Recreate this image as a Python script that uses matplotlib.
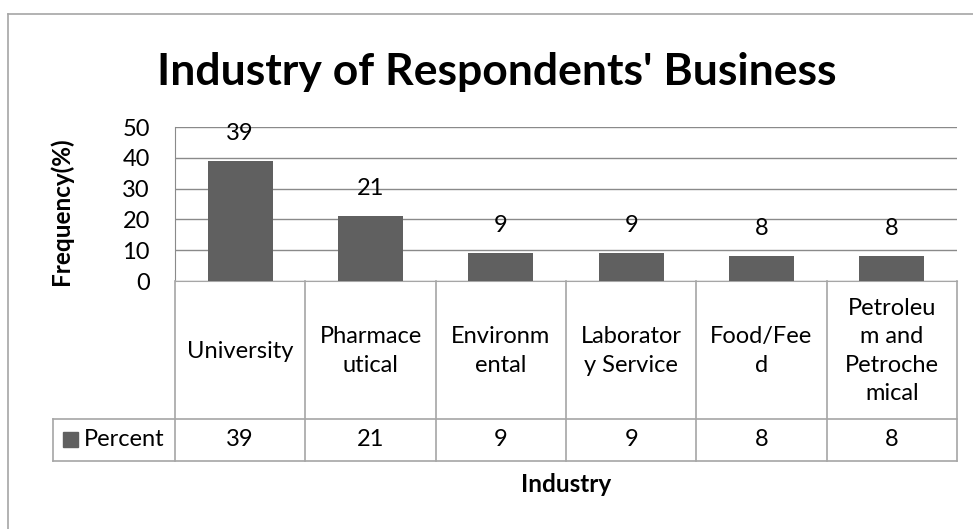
import matplotlib
matplotlib.use('Agg')
import matplotlib.pyplot as plt
from matplotlib.lines import Line2D
from matplotlib.patches import Rectangle

plt.rcParams['font.family'] = ['Lato', 'DejaVu Sans']

# data
categories = ['University', 'Pharmace\nutical', 'Environm\nental', 'Laborator\ny Service',
              'Food/Fee\nd', 'Petroleu\nm and\nPetroche\nmical']
percent = [39, 21, 9, 9, 8, 8]
series_name = 'Percent'
y_ticks = [0, 10, 20, 30, 40, 50]

W, H = 973, 529
bar_color = '#606060'
grid_color = '#8a8a8a'
line_color = '#a6a6a6'
fs = 17

fig = plt.figure(figsize=(W / 100, H / 100), dpi=100)
fig.patch.set_facecolor('white')

# outer chart frame (runs off the right and bottom of the picture)
fig.add_artist(Line2D([8 / W, 8 / W], [0, 1 - 14 / H], transform=fig.transFigure, color=line_color, lw=1.2))
fig.add_artist(Line2D([8 / W, 1], [1 - 14 / H, 1 - 14 / H], transform=fig.transFigure, color=line_color, lw=1.2))

# plot area
px_l, px_r, px_top, px_bot = 175, 957, 127, 281
ax = fig.add_axes([px_l / W, 1 - px_bot / H, (px_r - px_l) / W, (px_bot - px_top) / H])
x = list(range(len(categories)))
ax.bar(x, percent, width=0.5, color=bar_color, zorder=3)
ax.set_xlim(-0.5, len(categories) - 0.5)
ax.set_ylim(0, 50)
ax.set_yticks(y_ticks)
ax.yaxis.grid(True, color=grid_color, lw=1, zorder=0)
ax.set_xticks([])
ax.tick_params(axis='y', length=0, labelsize=fs, pad=18)
for s in ['top', 'right']:
    ax.spines[s].set_visible(False)
ax.spines['left'].set_color(grid_color)
ax.spines['bottom'].set_color(line_color)

for xi, v in zip(x, percent):
    ax.annotate(str(v), (xi, v), xytext=(0, 20), textcoords='offset points',
                ha='center', va='center', fontsize=fs, zorder=4)

# data table below the plot
tbl_bot = 461
ax_t = fig.add_axes([px_l / W, 1 - tbl_bot / H, (px_r - px_l) / W, (tbl_bot - px_bot) / H])
ax_t.set_xlim(-0.5, len(categories) - 0.5)
ax_t.set_ylim(tbl_bot - px_bot, 0)
ax_t.axis('off')
col_w = (px_r - px_l) / len(categories)
leg_x = -0.5 - (px_l - 53) / col_w
row_split = 419 - px_bot
row_end = tbl_bot - px_bot

kw = dict(color=line_color, lw=1.2, clip_on=False)
ax_t.plot([leg_x, len(categories) - 0.5], [row_split, row_split], **kw)
ax_t.plot([leg_x, len(categories) - 0.5], [row_end, row_end], **kw)
ax_t.plot([leg_x, leg_x], [row_split, row_end], **kw)
for b in range(len(categories) + 1):
    ax_t.plot([b - 0.5, b - 0.5], [0, row_end], **kw)

for xi, (cat, v) in enumerate(zip(categories, percent)):
    ax_t.text(xi, row_split / 2 + 1, cat, ha='center', va='center', fontsize=fs,
              linespacing=1.42, clip_on=False)
    ax_t.text(xi, (row_split + row_end) / 2, str(v), ha='center', va='center', fontsize=fs)

# legend key inside the table
sq = 15 / col_w
ax_t.add_patch(Rectangle((leg_x + 10 / col_w, row_split + 13), sq, 15, color=bar_color, clip_on=False))
ax_t.text(leg_x + 31 / col_w, (row_split + row_end) / 2, series_name, ha='left', va='center',
          fontsize=fs, clip_on=False)

fig.text(61 / W, 1 - 211 / H, 'Frequency(%)', rotation=90, ha='center', va='center',
         fontsize=17.5, fontweight='bold')
fig.text(566 / W, 1 - 484 / H, 'Industry', ha='center', va='center', fontsize=17.5, fontweight='bold')
fig.text(497 / W, 1 - 72 / H, "Industry of Respondents' Business", ha='center', va='center',
         fontsize=32, fontweight='bold')

fig.savefig('out.png', dpi=100)
